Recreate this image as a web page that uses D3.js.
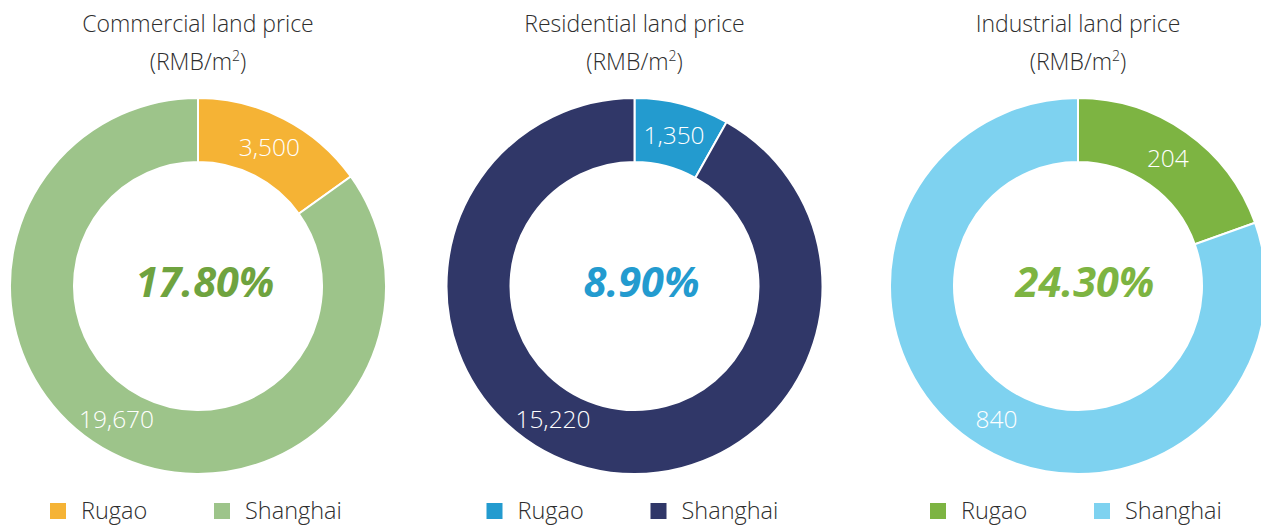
<!DOCTYPE html>
<html>
<head>
<meta charset="utf-8">
<script src="https://cdn.jsdelivr.net/npm/d3@7"></script>
<style>
  html, body { margin: 0; padding: 0; background: #ffffff; }
  svg { display: block; }
  text { font-family: "Open Sans", "Noto Sans", sans-serif; }
</style>
</head>
<body>
<svg id="chart" width="1261" height="526"></svg>
<script>
// Land prices, Rugao vs Shanghai (RMB per square metre)
const titles = ["Commercial land price", "Residential land price", "Industrial land price"];
const seriesNames = ["Rugao", "Shanghai"];
const rugaoPrices = [3500, 1350, 204];
const shanghaiPrices = [19670, 15220, 840];
const ratioLabels = ["17.80%", "8.90%", "24.30%"];
const rugaoColors = ["#f5b335", "#239bcf", "#7db442"];
const shanghaiColors = ["#9dc48a", "#303768", "#7ed2f0"];
const ratioColors = ["#6fa33f", "#239bcf", "#7db442"];

const svg = d3.select("#chart");
const centersX = [198, 634.5, 1078];
const centerY = 286;
const outerR = 188, innerR = 124;
const labelR = (outerR + innerR) / 2;
const shanghaiLabelAngle = 211.5 * Math.PI / 180;
const fmt = d3.format(",");

const pie = d3.pie().sort(null).value(d => d.value);
const arc = d3.arc().innerRadius(innerR).outerRadius(outerR);

titles.forEach((title, i) => {
  const cx = centersX[i];
  const data = [
    { name: seriesNames[0], value: rugaoPrices[i], color: rugaoColors[i] },
    { name: seriesNames[1], value: shanghaiPrices[i], color: shanghaiColors[i] }
  ];
  const arcs = pie(data);

  // Title block
  svg.append("text")
    .attr("x", cx).attr("y", 32)
    .attr("text-anchor", "middle")
    .attr("font-size", 23)
    .attr("font-weight", 300)
    .attr("fill", "#2e2e2e")
    .text(title);
  const unit = svg.append("text")
    .attr("x", cx).attr("y", 70)
    .attr("text-anchor", "middle")
    .attr("font-size", 23)
    .attr("font-weight", 300)
    .attr("fill", "#2e2e2e");
  unit.append("tspan").text("(RMB/m");
  unit.append("tspan").attr("font-size", 14).attr("dy", -9).text("2");
  unit.append("tspan").attr("dy", 9).text(")");

  const g = svg.append("g").attr("transform", `translate(${cx},${centerY})`);

  g.selectAll("path")
    .data(arcs)
    .join("path")
    .attr("d", arc)
    .attr("fill", d => d.data.color)
    .attr("stroke", "#ffffff")
    .attr("stroke-width", 2);

  // Value labels: Rugao at slice centroid, Shanghai at a fixed lower-left spot
  g.selectAll("text.value")
    .data(arcs)
    .join("text")
    .attr("class", "value")
    .attr("transform", (d, k) => {
      if (k === 0) {
        const [x, y] = d3.arc().innerRadius(labelR).outerRadius(labelR).centroid(d);
        return `translate(${x},${y})`;
      }
      return `translate(${labelR * Math.sin(shanghaiLabelAngle)},${-labelR * Math.cos(shanghaiLabelAngle)})`;
    })
    .attr("text-anchor", "middle")
    .attr("dy", "0.36em")
    .attr("font-size", 24.5)
    .attr("font-weight", 300)
    .attr("fill", "#ffffff")
    .text(d => fmt(d.data.value));

  // Centre ratio
  g.append("text")
    .attr("x", 7).attr("y", 11)
    .attr("text-anchor", "middle")
    .attr("font-size", 41.5)
    .attr("font-weight", "bold")
    .attr("font-style", "italic")
    .attr("fill", ratioColors[i])
    .text(ratioLabels[i]);

  // Legend
  const legendOffsets = [-148, 16];
  const lg = svg.append("g").attr("transform", `translate(${cx},0)`);
  data.forEach((d, k) => {
    lg.append("rect")
      .attr("x", legendOffsets[k]).attr("y", 503)
      .attr("width", 16).attr("height", 16)
      .attr("fill", d.color);
    lg.append("text")
      .attr("x", legendOffsets[k] + 31).attr("y", 519)
      .attr("font-size", 23.5)
      .attr("font-weight", 300)
      .attr("fill", "#2e2e2e")
      .text(d.name);
  });
});
</script>
</body>
</html>
